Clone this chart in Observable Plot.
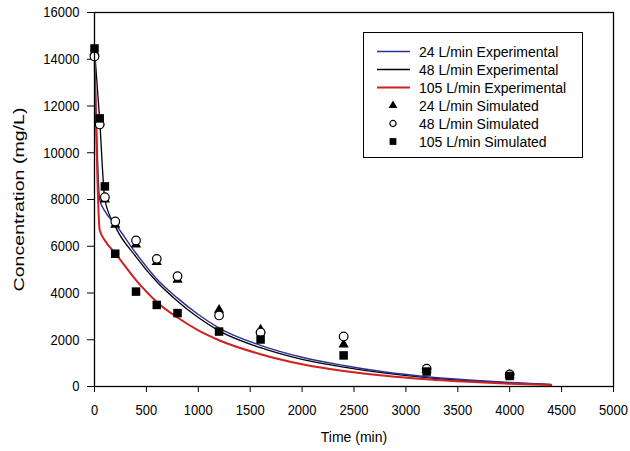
<!DOCTYPE html>
<html>
<head>
<meta charset="utf-8">
<script src="https://cdn.jsdelivr.net/npm/d3@7"></script>
<script src="https://cdn.jsdelivr.net/npm/@observablehq/plot@0.6"></script>
<style>
  body { margin: 0; background: #fff; }
  #chart { position: relative; width: 630px; height: 451px; font-family: "Liberation Sans", Arial, sans-serif; }
  #legend { position: absolute; left: 363px; top: 32px; }
</style>
</head>
<body>
<div id="chart"></div>
<script>
// Simulated concentrations (mg/L) at the sampling times (min)
const simTime = [0, 50, 100, 200, 400, 600, 800, 1200, 1600, 2400, 3200, 4000];
const sim24  = [14300, 11300, 8000, 6920, 6075, 5320, 4560, 3280, 2430, 1800, 720, 480];
const sim48  = [14120, 11210, 8100, 7060, 6250, 5460, 4720, 3040, 2310, 2140, 760, 520];
const sim105 = [14460, 11470, 8560, 5680, 4060, 3490, 3140, 2350, 2010, 1330, 640, 450];

// Experimental concentration curves (mg/L)
const expTime = [0, 50, 100, 200, 400, 600, 800, 1000, 1200, 1600, 2000, 2400, 2800, 3200, 3600, 4000, 4400];
const exp24  = [14400, 8000, 7500, 6950, 5700, 4600, 3780, 3080, 2500, 1760, 1250, 900, 620, 420, 280, 170, 90];
const exp48  = [14450, 11400, 8000, 6850, 5550, 4480, 3650, 2950, 2380, 1660, 1160, 830, 570, 380, 250, 150, 80];
const exp105 = [14400, 6700, 6250, 5700, 4550, 3620, 2950, 2400, 1980, 1380, 950, 660, 460, 310, 200, 120, 60];

// Axis ticks
const xTicks = [0, 500, 1000, 1500, 2000, 2500, 3000, 3500, 4000, 4500, 5000];
const yTicks = [0, 2000, 4000, 6000, 8000, 10000, 12000, 14000, 16000];

const legendLabels = [
  "24 L/min Experimental", "48 L/min Experimental", "105 L/min Experimental",
  "24 L/min Simulated", "48 L/min Simulated", "105 L/min Simulated"
];

const BLUE = "#28309a", RED = "#d0201f", BLACK = "#000";

const rows = (ts, vs) => ts.map((t, i) => ({t, c: vs[i]}));

const svg = Plot.plot({
  width: 630,
  height: 451,
  marginLeft: 94,
  marginRight: 17,
  marginTop: 12,
  marginBottom: 65,
  style: {fontFamily: '"Liberation Sans", Arial, sans-serif', fontSize: "13px", color: "#000", background: "#fff", overflow: "visible"},
  x: {domain: [0, 5000], ticks: xTicks, tickFormat: d => String(d), tickSize: 6, tickPadding: 13,
      label: "Time (min)", labelAnchor: "center", labelArrow: "none", labelOffset: 55},
  y: {domain: [0, 16000], ticks: yTicks, tickFormat: d => String(d), tickSize: 7, tickPadding: 8,
      label: "Concentration (mg/L)", labelAnchor: "center", labelArrow: "none", labelOffset: 80},
  marks: [
    Plot.line(rows(expTime, exp48), {x: "t", y: "c", stroke: BLACK, strokeWidth: 1.3, curve: "monotone-x"}),
    Plot.line(rows(expTime, exp24), {x: "t", y: "c", stroke: BLUE, strokeWidth: 1.4, curve: "monotone-x"}),
    Plot.line(rows(expTime, exp105), {x: "t", y: "c", stroke: RED, strokeWidth: 2, curve: "monotone-x"}),
    Plot.dot(rows(simTime, sim24), {x: "t", y: "c", symbol: "triangle", r: 3.8, fill: BLACK, stroke: "none"}),
    Plot.dot(rows(simTime, sim48), {x: "t", y: "c", symbol: "circle", r: 4.3, fill: "#fff", stroke: BLACK, strokeWidth: 1.2}),
    Plot.dot(rows(simTime, sim105), {x: "t", y: "c", symbol: "square", r: 4.8, fill: BLACK, stroke: "none"}),
    Plot.frame({stroke: BLACK, strokeWidth: 1.3})
  ]
});

const chart = document.getElementById("chart");
chart.appendChild(svg);

// Tall, narrow lettering on the axes
function stretchText(selector, sx, sy) {
  svg.querySelectorAll(selector).forEach(t => {
    const b = t.getBBox();
    const cx = b.x + b.width / 2, cy = b.y + b.height / 2;
    const tr = t.getAttribute("transform") || "";
    t.setAttribute("transform", `${tr} translate(${cx},${cy}) scale(${sx},${sy}) translate(${-cx},${-cy})`);
  });
}
svg.querySelectorAll('g[aria-label="x-axis label"] text, g[aria-label="y-axis label"] text')
  .forEach(t => t.style.fontSize = "14px");
stretchText('g[aria-label="x-axis tick label"] text', 1, 1.15);
stretchText('g[aria-label="y-axis tick label"] text', 1, 1.15);
stretchText('g[aria-label="y-axis label"] text', 1.4, 1);

// Legend box
const lw = 220, lh = 126, rowH = 18, row0 = 19.5;
const legend = d3.create("svg")
  .attr("id", "legend")
  .attr("width", lw).attr("height", lh)
  .style("font-family", '"Liberation Sans", Arial, sans-serif')
  .style("font-size", "14px");
legend.append("rect").attr("x", 0.5).attr("y", 0.5).attr("width", lw - 1).attr("height", lh - 1)
  .attr("fill", "#fff").attr("stroke", BLACK).attr("stroke-width", 1);
const lineColors = [BLUE, BLACK, RED];
const symbols = [
  d3.symbol(d3.symbolTriangle, 34)(),
  d3.symbol(d3.symbolCircle, 30)(),
  d3.symbol(d3.symbolSquare, 46)()
];
legendLabels.forEach((label, i) => {
  const y = row0 + i * rowH;
  if (i < 3) {
    legend.append("line").attr("x1", 14).attr("x2", 47).attr("y1", y).attr("y2", y)
      .attr("stroke", lineColors[i]).attr("stroke-width", i === 2 ? 2 : 1.4);
  } else {
    const p = legend.append("path").attr("d", symbols[i - 3]).attr("transform", `translate(30,${y})`);
    if (i === 4) p.attr("fill", "#fff").attr("stroke", BLACK).attr("stroke-width", 1.2);
    else p.attr("fill", BLACK);
  }
  legend.append("text").attr("x", 56).attr("y", y).attr("dy", "0.36em").attr("fill", BLACK).text(label);
});
chart.appendChild(legend.node());
</script>
</body>
</html>
